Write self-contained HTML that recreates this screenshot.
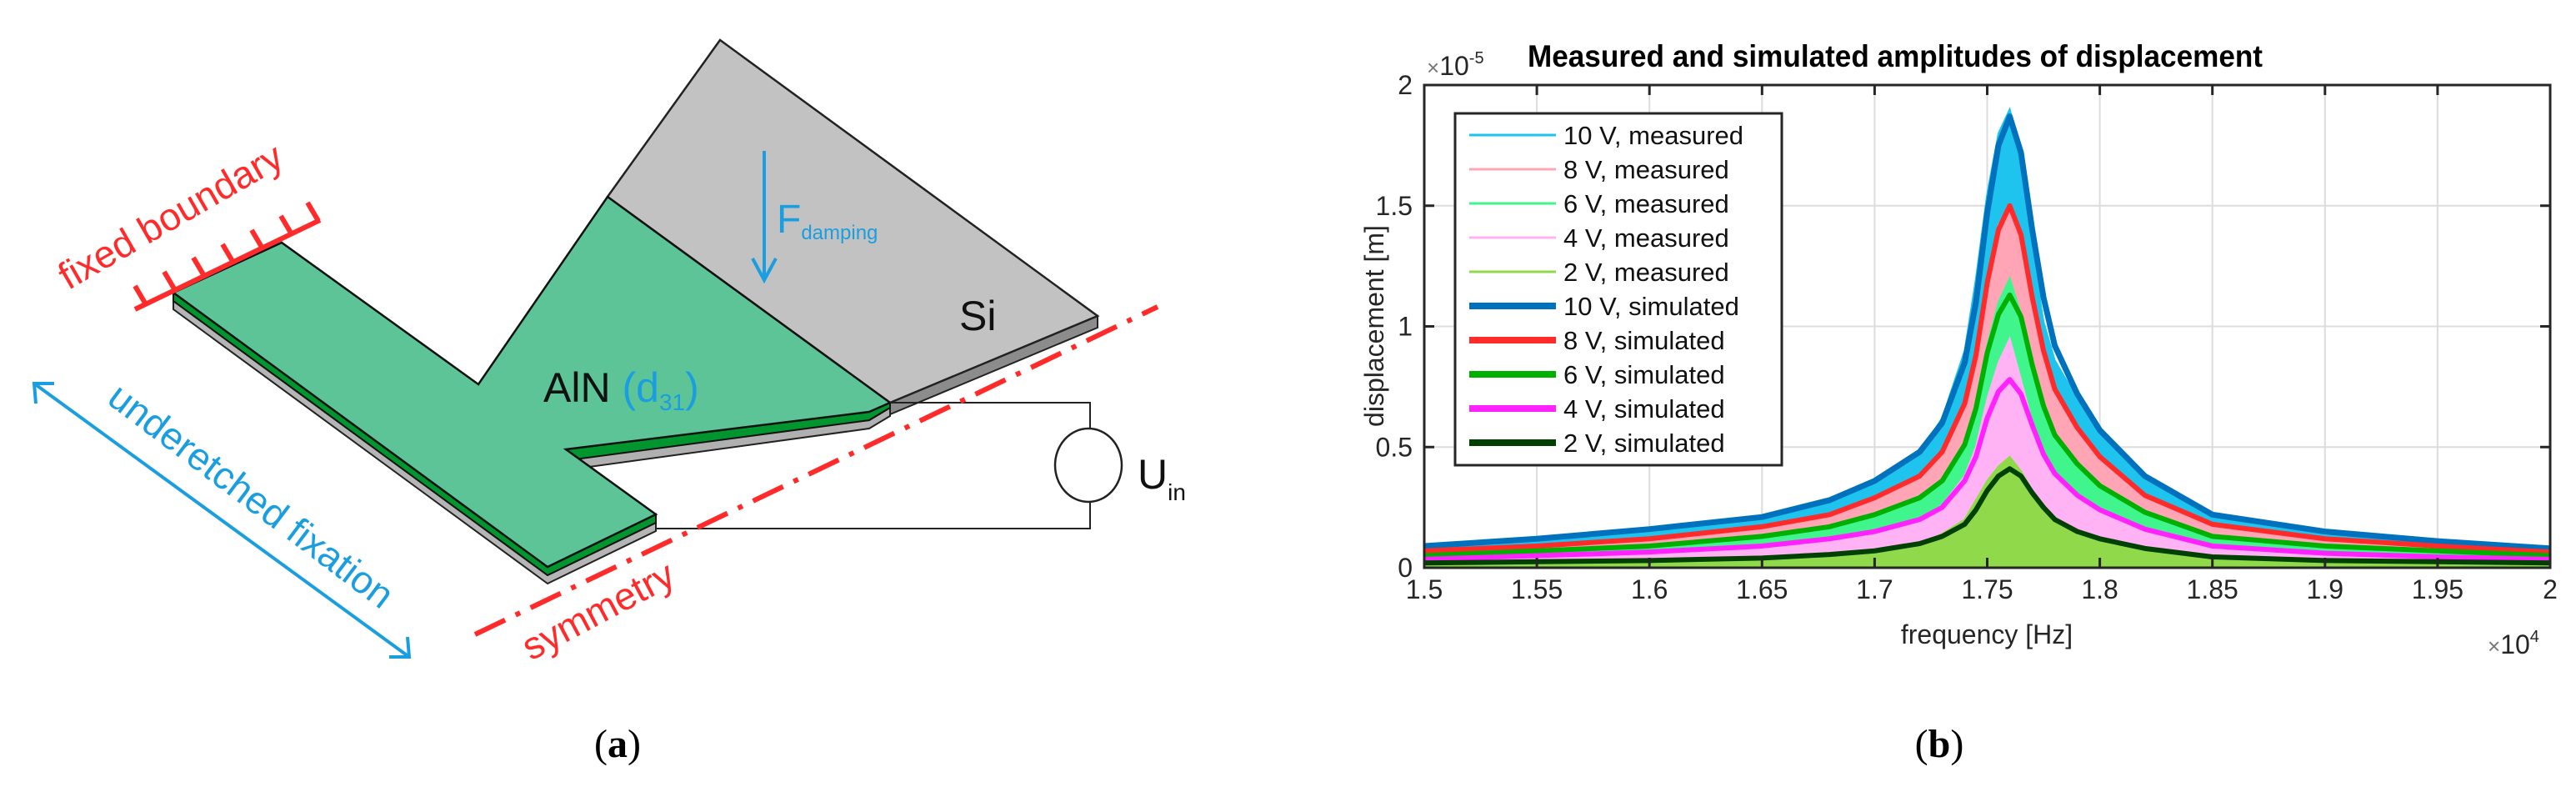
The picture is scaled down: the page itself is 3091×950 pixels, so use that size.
<!DOCTYPE html>
<html><head><meta charset="utf-8"><style>
html,body{margin:0;padding:0;background:#fff;}
svg{display:block;font-family:"Liberation Sans",sans-serif;}
</style></head><body>
<svg id="root" width="3091" height="950" viewBox="0 0 3091 950" xmlns="http://www.w3.org/2000/svg">
<g>
  <polygon points="1317,379 1317,393 1068,497 1068,483" fill="#8c8c8c" stroke="#222" stroke-width="2"/>
  <polygon points="864,48 1317,379 1068,483 729,236" fill="#c3c2c3" stroke="#222" stroke-width="2.5"/>
  <polygon points="679,549 1043,504 1068,489 1068,499 1043,514 700,561" fill="#b0b0b0" stroke="#222" stroke-width="2"/>
  <polygon points="208,361 657,690 787,627 787,637 657,700 208,371" fill="#b5b5b5" stroke="#222" stroke-width="2"/>
  <polygon points="208,351 657,680 787,617 787,627 657,690 208,361" fill="#00952f" stroke="#111" stroke-width="2"/>
  <polygon points="679,539 1043,494 1068,483 1068,489 1043,504 690,551" fill="#00952f" stroke="#111" stroke-width="2"/>
  <polygon points="208,351 338,291 574,461 729,236 1068,483 1043,494 679,539 787,617 657,680" fill="#5cc497" stroke="#111" stroke-width="2.5"/>
  <polyline points="1068,483 1308,483 1308,634 787,634" fill="none" stroke="#222" stroke-width="2"/>
  <ellipse cx="1306" cy="558" rx="40" ry="44" fill="#fff" stroke="#222" stroke-width="2.5"/>
  <text x="1365" y="586" font-size="50" fill="#111">U<tspan font-size="28" dy="14">in</tspan></text>
  <line x1="570" y1="761" x2="1389" y2="368" stroke="#ff2a2a" stroke-width="6" stroke-dasharray="40,14,6,14"/>
  <text x="718" y="748" font-size="46" fill="#ff2a2a" text-anchor="middle" transform="rotate(-28 718 733)">symmetry</text>
  <line x1="162" y1="371" x2="384" y2="264" stroke="#ff2a2a" stroke-width="6"/>
  <g stroke="#ff2a2a" stroke-width="6">
    <line x1="175" y1="365" x2="162" y2="343"/><line x1="210" y1="348" x2="197" y2="326"/><line x1="245" y1="331" x2="232" y2="309"/><line x1="280" y1="315" x2="267" y2="293"/><line x1="315" y1="298" x2="302" y2="276"/><line x1="350" y1="281" x2="337" y2="259"/><line x1="382" y1="265" x2="369" y2="243"/>
  </g>
  <text x="205" y="275" font-size="46" fill="#ff2a2a" text-anchor="middle" transform="rotate(-30 205 260)">fixed boundary</text>
  <line x1="41" y1="460" x2="491" y2="788" stroke="#1a9ee0" stroke-width="4"/>
  <polyline points="43,484 41,460 65,460" fill="none" stroke="#1a9ee0" stroke-width="4"/>
  <polyline points="467,788 491,788 489,764" fill="none" stroke="#1a9ee0" stroke-width="4"/>
  <text x="301" y="610" font-size="46" fill="#1a9ee0" text-anchor="middle" transform="rotate(37 301 595)">underetched fixation</text>
  <line x1="917" y1="181" x2="917" y2="334" stroke="#1a9ee0" stroke-width="4"/>
  <polyline points="903,310 917,336 931,310" fill="none" stroke="#1a9ee0" stroke-width="4"/>
  <text x="932" y="279" font-size="48" fill="#1a9ee0">F<tspan font-size="24" dy="8">damping</tspan></text>
  <text x="652" y="482" font-size="50" fill="#111">AlN <tspan fill="#1a9ee0">(d<tspan font-size="28" dy="10">31</tspan><tspan dy="-10">)</tspan></tspan></text>
  <text x="1151" y="396" font-size="50" fill="#111">Si</text>
  <text x="741" y="908" font-size="48" font-family="Liberation Serif, serif" text-anchor="middle">(<tspan font-weight="bold">a</tspan>)</text>
</g>
<g id="chart"></g>
<text x="2327" y="908" font-size="48" font-family="Liberation Serif, serif" text-anchor="middle">(<tspan font-weight="bold">b</tspan>)</text>
</svg>
<script>
const freqs = [1.5,1.55,1.6,1.65,1.68,1.7,1.72,1.73,1.74,1.745,1.75,1.755,1.76,1.765,1.77,1.775,1.78,1.79,1.8,1.82,1.85,1.9,1.95,2.0];
const meas10 = [.08,.11,.15,.21,.28,.36,.48,.62,.9,1.2,1.55,1.8,1.9,1.72,1.32,1.02,.86,.7,.56,.37,.21,.14,.1,.07];
const meas8 = [.065,.085,.11,.16,.21,.28,.37,.48,.68,.9,1.2,1.42,1.5,1.36,1.08,.86,.72,.56,.45,.29,.17,.11,.08,.06];
const meas6 = [.045,.065,.085,.12,.16,.21,.28,.36,.52,.68,.92,1.1,1.2,1.05,.84,.66,.54,.42,.33,.22,.12,.08,.06,.045];
const meas4 = [.03,.045,.06,.085,.11,.15,.2,.26,.38,.5,.7,.85,.95,.78,.6,.48,.38,.29,.23,.15,.08,.055,.04,.03];
const meas2 = [.015,.02,.028,.038,.05,.065,.1,.14,.2,.28,.36,.42,.46,.4,.32,.25,.19,.14,.11,.07,.04,.025,.02,.015];
const sim10 = [.09,.12,.16,.21,.28,.36,.48,.6,.85,1.1,1.47,1.75,1.87,1.72,1.4,1.12,.92,.72,.57,.38,.22,.15,.11,.08];
const sim8 = [.07,.09,.12,.17,.22,.29,.38,.48,.68,.88,1.18,1.4,1.5,1.38,1.12,.9,.74,.58,.46,.3,.18,.12,.09,.065];
const sim6 = [.05,.07,.09,.13,.17,.22,.29,.36,.51,.66,.89,1.05,1.13,1.04,.84,.67,.55,.43,.34,.23,.13,.09,.07,.05];
const sim4 = [.035,.05,.065,.09,.12,.15,.2,.25,.36,.46,.62,.73,.78,.72,.59,.47,.39,.3,.24,.16,.09,.06,.045,.035];
const sim2 = [.02,.025,.03,.04,.055,.07,.1,.13,.18,.24,.32,.38,.41,.38,.31,.25,.2,.15,.12,.08,.045,.03,.025,.02];
const xTicks = [1.5,1.55,1.6,1.65,1.7,1.75,1.8,1.85,1.9,1.95,2];
const xTickLabels = ["1.5","1.55","1.6","1.65","1.7","1.75","1.8","1.85","1.9","1.95","2"];
const yTicks = [0,0.5,1,1.5,2];
const yTickLabels = ["0","0.5","1","1.5","2"];
const legendLabels = ["10 V, measured","8 V, measured","6 V, measured","4 V, measured","2 V, measured","10 V, simulated","8 V, simulated","6 V, simulated","4 V, simulated","2 V, simulated"];

const NS="http://www.w3.org/2000/svg";
const L=1709,R=3060,T=102,B=681;
function sx(v){return L+(v-1.5)/0.5*(R-L);}
function sy(v){return B-v/2*(B-T);}
const g=document.getElementById('chart');
function mk(tag,attrs,parent){const e=document.createElementNS(NS,tag);for(const k in attrs)e.setAttribute(k,attrs[k]);(parent||g).appendChild(e);return e;}

xTicks.forEach((v,i)=>{
  const ln=mk('line',{x1:sx(v),x2:sx(v),y1:T,y2:B,stroke:'#dcdcdc','stroke-width':2});
  
  
  const t=mk('text',{x:sx(v),y:718,'font-size':32,'text-anchor':'middle',fill:'#262626'});
  t.textContent=xTickLabels[i];
  
  
});
yTicks.forEach((v,i)=>{
  const ln=mk('line',{x1:L,x2:R,y1:sy(v),y2:sy(v),stroke:'#dcdcdc','stroke-width':2});
  
  
  const t=mk('text',{x:1695,y:sy(v)+11,'font-size':32,'text-anchor':'end',fill:'#262626'});
  t.textContent=yTickLabels[i];
  
  
});

function areaPts(arr){let p=freqs.map((f,i)=>sx(f)+','+sy(arr[i]));p.push(sx(2)+','+sy(0));p.push(sx(1.5)+','+sy(0));return p.join(' ');}
function linePts(arr){return freqs.map((f,i)=>sx(f)+','+sy(arr[i])).join(' ');}
const measSeries=[meas10,meas8,meas6,meas4,meas2];
const measColors=['#1ec4ee','#ffa5b5','#3ff58c','#ffb3f5','#8fd94a'];
const measNames=['measured-10v','measured-8v','measured-6v','measured-4v','measured-2v'];
measSeries.forEach((arr,i)=>{
  const p=mk('polygon',{points:areaPts(arr),fill:measColors[i],stroke:measColors[i],'stroke-width':2});
  
  
});
const simSeries=[sim10,sim8,sim6,sim4,sim2];
const simColors=['#0072bd','#ff2a2a','#00b000','#ff22ff','#004000'];
const simWidths=[7,6,6,6,6];
const simNames=['simulated-10v','simulated-8v','simulated-6v','simulated-4v','simulated-2v'];
simSeries.forEach((arr,i)=>{
  const p=mk('polyline',{points:linePts(arr),fill:'none',stroke:simColors[i],'stroke-width':simWidths[i],'stroke-linejoin':'round'});
  
  
});
const box=mk('rect',{x:L,y:T,width:R-L,height:B-T,fill:'none',stroke:'#262626','stroke-width':3});


xTicks.forEach(v=>{mk('line',{x1:sx(v),x2:sx(v),y1:B,y2:B-12,stroke:'#262626','stroke-width':3});mk('line',{x1:sx(v),x2:sx(v),y1:T,y2:T+12,stroke:'#262626','stroke-width':3});});
yTicks.forEach(v=>{mk('line',{x1:L,x2:L+12,y1:sy(v),y2:sy(v),stroke:'#262626','stroke-width':3});mk('line',{x1:R,x2:R-12,y1:sy(v),y2:sy(v),stroke:'#262626','stroke-width':3});});

const lg=mk('rect',{x:1746,y:136,width:392,height:422,fill:'#fff',stroke:'#262626','stroke-width':3});


const legColors=measColors.concat(simColors);
legendLabels.forEach((lab,i)=>{
  const y=162+i*41;
  const ln=mk('line',{x1:1763,x2:1867,y1:y,y2:y,stroke:legColors[i],'stroke-width':i<5?3:8});
  
  
  const t=mk('text',{x:1876,y:y+11,'font-size':31,fill:'#111'});
  t.textContent=lab;
  
  
});

const title=mk('text',{x:1833,y:80,'font-size':37,'font-weight':'bold',fill:'#000',textLength:882,lengthAdjust:'spacingAndGlyphs'});
title.textContent='Measured and simulated amplitudes of displacement';


const ye=mk('text',{x:1712,y:90,'font-size':32,fill:'#262626'});
ye.innerHTML='<tspan fill="#777" font-size="26">×</tspan>10<tspan font-size="20" dy="-14">-5</tspan>';


const xe=mk('text',{x:2985,y:784,'font-size':32,fill:'#262626'});
xe.innerHTML='<tspan fill="#777" font-size="26">×</tspan>10<tspan font-size="20" dy="-14">4</tspan>';


const xl=mk('text',{x:2384,y:772,'font-size':32,fill:'#262626','text-anchor':'middle'});
xl.textContent='frequency [Hz]';


const yl=mk('text',{x:0,y:0,'font-size':32,fill:'#262626','text-anchor':'middle',transform:'translate(1660,391) rotate(-90)'});
yl.textContent='displacement [m]';


</script>
</body></html>
